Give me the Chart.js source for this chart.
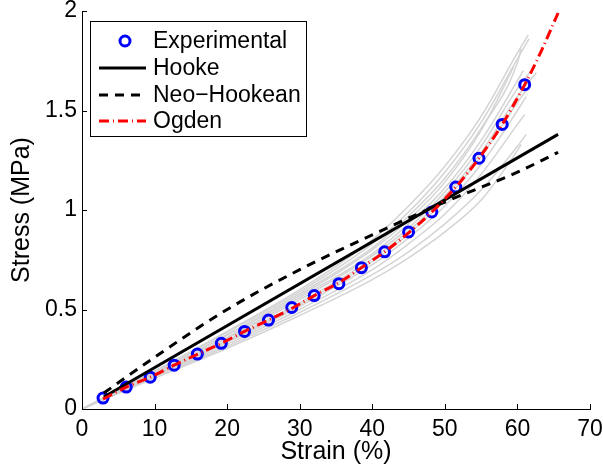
<!DOCTYPE html>
<html>
<head>
<meta charset="utf-8">
<script src="https://cdn.jsdelivr.net/npm/chart.js@4/dist/chart.umd.min.js"></script>
<style>
html,body{margin:0;padding:0;background:#fff;}
#wrap{width:603px;height:472px;position:relative;}
</style>
</head>
<body>
<div id="wrap"><canvas id="c" width="603" height="472"></canvas></div>
<script>
// ---- data ----
const expStrain = [2.9, 6.1, 9.4, 12.7, 15.9, 19.2, 22.4, 25.7, 28.9, 32.0, 35.4, 38.5, 41.7, 45.0, 48.2, 51.5, 54.7, 57.9, 61.0];
const expStress = [0.055, 0.11, 0.16, 0.22, 0.276, 0.33, 0.39, 0.447, 0.51, 0.57, 0.63, 0.71, 0.79, 0.89, 0.99, 1.115, 1.26, 1.43, 1.63];

const hookeStrain = [3, 65.6];
const hookeStress = [0.06, 1.38];

const neoStrain = [3, 10, 20, 30, 40, 50, 60, 65.6];
const neoStress = [0.08, 0.26, 0.50, 0.70, 0.875, 1.04, 1.19, 1.29];

const ogdenStrain = [2.9, 6.1, 9.4, 12.7, 15.9, 19.2, 22.4, 25.7, 28.9, 32.0, 35.4, 38.5, 41.7, 45.0, 48.2, 51.5, 54.7, 57.9, 61.0, 63.3, 65.6];
const ogdenStress = [0.05, 0.11, 0.16, 0.22, 0.275, 0.33, 0.39, 0.447, 0.505, 0.57, 0.635, 0.71, 0.79, 0.885, 0.99, 1.115, 1.26, 1.43, 1.63, 1.80, 1.99];

// individual specimen curves (grey)
const grayStrain = [0, 10, 20, 30, 40, 45, 50, 55, 60];
const grayCurveA = [0, 0.19, 0.39, 0.60, 0.85, 1.02, 1.22, 1.47, 1.79];
const grayCurveB = [0, 0.19, 0.385, 0.59, 0.83, 0.99, 1.19, 1.44, 1.76];
const grayCurveC = [0, 0.185, 0.375, 0.58, 0.81, 0.97, 1.16, 1.41, 1.74];
const grayCurveD = [0, 0.18, 0.37, 0.57, 0.80, 0.95, 1.14, 1.40, null];
const grayCurveE = [0, 0.18, 0.36, 0.56, 0.78, 0.93, 1.11, 1.35, 1.65];
const grayCurveF = [0, 0.175, 0.355, 0.55, 0.77, 0.91, 1.09, 1.32, 1.61];
const grayCurveG = [0, 0.17, 0.345, 0.535, 0.755, 0.895, 1.07, 1.29, 1.57];
const grayCurveH = [0, 0.17, 0.34, 0.525, 0.74, 0.88, 1.05, 1.27, 1.54];
const grayCurveI = [0, 0.165, 0.335, 0.515, 0.725, 0.86, 1.02, 1.23, 1.50];
const grayCurveJ = [0, 0.16, 0.325, 0.50, 0.70, 0.83, 0.98, 1.18, 1.43];
const grayCurveK = [0, 0.16, 0.315, 0.485, 0.675, 0.79, 0.93, 1.10, 1.32];
const grayCurveL = [0, 0.155, 0.305, 0.47, 0.65, 0.76, 0.89, 1.05, 1.30];
const grayEndStrain = [61.5, 61.6, 60.5, 59.5, 60.8, 62.3, 62.6, 61.8, 61.2, 61.0, 61.2, 60.5];
const grayEndStress = [1.88, 1.86, 1.81, 1.72, 1.70, 1.72, 1.69, 1.63, 1.57, 1.48, 1.38, 1.33];

const xTicks = [0, 10, 20, 30, 40, 50, 60, 70];
const yTicks = [0, 0.5, 1, 1.5, 2];
const legendLabels = ['Experimental', 'Hooke', 'Neo\u2212Hookean', 'Ogden'];

// ---- build ----
const FONT = '"Liberation Sans", Arial, Helvetica, sans-serif';
function pts(xs, ys) { const o = []; for (let i = 0; i < xs.length; i++) { if (ys[i] !== null) o.push({x: xs[i], y: ys[i]}); } return o; }

const grayCurves = [grayCurveA, grayCurveB, grayCurveC, grayCurveD, grayCurveE, grayCurveF, grayCurveG, grayCurveH, grayCurveI, grayCurveJ, grayCurveK, grayCurveL];
const datasets = [];
grayCurves.forEach((c, i) => {
  const d = pts(grayStrain, c);
  d.push({x: grayEndStrain[i], y: grayEndStress[i]});
  datasets.push({data: d, showLine: true, borderColor: '#d4d4d4', borderWidth: 1.5, pointRadius: 0, cubicInterpolationMode: 'monotone', order: 10});
});
datasets.push({label: legendLabels[0], data: pts(expStrain, expStress), showLine: false, pointRadius: 5, pointBorderWidth: 3, pointBorderColor: '#0000ff', pointBackgroundColor: 'rgba(0,0,0,0)', order: 5});
datasets.push({label: legendLabels[1], data: pts(hookeStrain, hookeStress), showLine: true, borderColor: '#000', borderWidth: 3, pointRadius: 0, order: 3});
datasets.push({label: legendLabels[2], data: pts(neoStrain, neoStress), showLine: true, borderColor: '#000', borderWidth: 3, borderDash: [9, 7], pointRadius: 0, cubicInterpolationMode: 'monotone', order: 2});
datasets.push({label: legendLabels[3], data: pts(ogdenStrain, ogdenStress), showLine: true, borderColor: '#ff0000', borderWidth: 3, borderDash: [10, 4, 1, 4], pointRadius: 0, cubicInterpolationMode: 'monotone', order: 1});

const inwardTicks = {
  id: 'inwardTicks',
  afterDraw(chart) {
    const ctx = chart.ctx, xs = chart.scales.x, ys = chart.scales.y, a = chart.chartArea;
    ctx.save();
    ctx.strokeStyle = '#000'; ctx.lineWidth = 1;
    xTicks.forEach(v => { const p = Math.round(xs.getPixelForValue(v)) + 0.5; ctx.beginPath(); ctx.moveTo(p, a.bottom); ctx.lineTo(p, a.bottom - 5); ctx.stroke(); });
    yTicks.forEach(v => { const p = Math.round(ys.getPixelForValue(v)) + 0.5; ctx.beginPath(); ctx.moveTo(a.left, p); ctx.lineTo(a.left + 5, p); ctx.stroke(); });
    ctx.restore();
  }
};

const boxLegend = {
  id: 'boxLegend',
  afterDraw(chart) {
    const ctx = chart.ctx;
    ctx.save();
    const bx = 90.5, by = 21.5, bw = 216, bh = 115;
    ctx.fillStyle = '#fff'; ctx.fillRect(bx, by, bw, bh);
    ctx.strokeStyle = '#000'; ctx.lineWidth = 1; ctx.strokeRect(bx, by, bw, bh);
    const rows = [41, 68, 95, 121];
    const x1 = 99, x2 = 146;
    ctx.beginPath(); ctx.arc(125, rows[0], 5, 0, Math.PI * 2); ctx.lineWidth = 3; ctx.strokeStyle = '#0000ff'; ctx.stroke();
    ctx.beginPath(); ctx.setLineDash([]); ctx.lineWidth = 3; ctx.strokeStyle = '#000'; ctx.moveTo(x1, rows[1]); ctx.lineTo(x2, rows[1]); ctx.stroke();
    ctx.beginPath(); ctx.setLineDash([9, 7]); ctx.moveTo(x1, rows[2]); ctx.lineTo(x2, rows[2]); ctx.stroke();
    ctx.beginPath(); ctx.setLineDash([10, 4, 1, 4]); ctx.strokeStyle = '#ff0000'; ctx.moveTo(x1, rows[3]); ctx.lineTo(x2, rows[3]); ctx.stroke();
    ctx.setLineDash([]);
    ctx.fillStyle = '#000'; ctx.font = '23px ' + FONT; ctx.textBaseline = 'middle'; ctx.textAlign = 'left';
    legendLabels.forEach((t, i) => ctx.fillText(t, 153, rows[i] + 1));
    ctx.restore();
  }
};

new Chart(document.getElementById('c'), {
  type: 'scatter',
  data: {datasets},
  options: {
    responsive: false, animation: false,
    layout: {padding: {left: 0, right: 13, top: 11, bottom: 0}},
    plugins: {legend: {display: false}, tooltip: {enabled: false}},
    scales: {
      x: {
        type: 'linear', min: 0, max: 70,
        afterBuildTicks: s => { s.ticks = xTicks.map(v => ({value: v})); },
        afterFit: s => { s.height = 63; s.paddingLeft = 0; s.paddingRight = 0; },
        ticks: {color: '#000', font: {family: FONT, size: 23}, padding: 7, maxRotation: 0, callback: v => String(v)},
        grid: {display: false, drawTicks: false},
        border: {display: true, color: '#000', width: 1},
        title: {display: true, text: 'Strain (%)', color: '#000', font: {family: FONT, size: 25}, padding: {top: 0, bottom: 5}}
      },
      y: {
        type: 'linear', min: 0, max: 2,
        afterBuildTicks: s => { s.ticks = yTicks.map(v => ({value: v})); },
        afterFit: s => { s.width = 82; s.paddingTop = 0; s.paddingBottom = 0; },
        ticks: {color: '#000', font: {family: FONT, size: 23, lineHeight: 0.8}, padding: 5, callback: v => String(v)},
        grid: {display: false, drawTicks: false},
        border: {display: true, color: '#000', width: 1},
        title: {display: true, text: 'Stress (MPa)', color: '#000', font: {family: FONT, size: 25}, padding: {top: 7, bottom: 0}}
      }
    }
  },
  plugins: [inwardTicks, boxLegend]
});
</script>
</body>
</html>
